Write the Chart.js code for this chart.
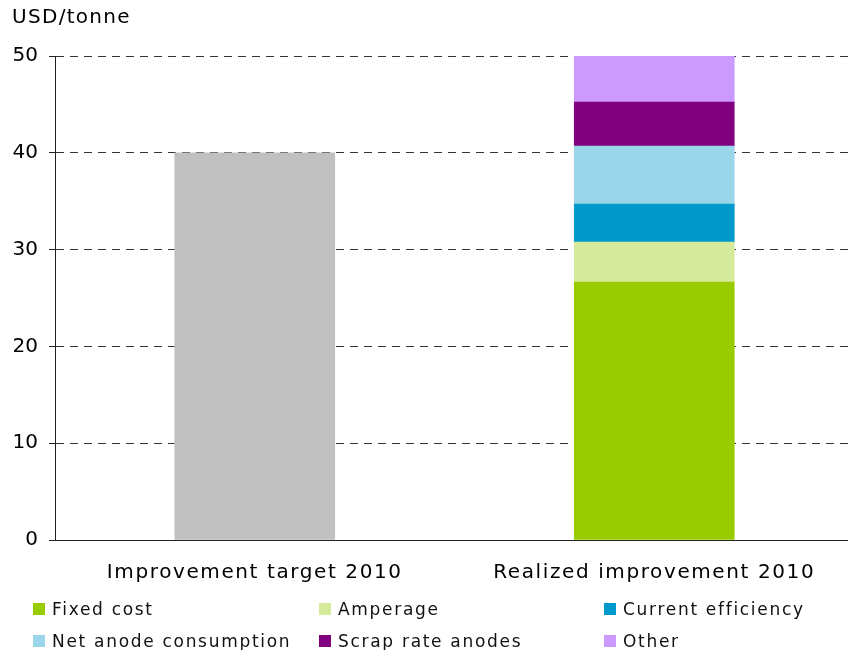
<!DOCTYPE html>
<html><head><meta charset="utf-8">
<script src="https://cdn.jsdelivr.net/npm/chart.js@4/dist/chart.umd.min.js"></script>
<style>
html,body{margin:0;background:#fff;overflow:hidden;}
#wrap{position:relative;width:848px;height:650px;overflow:hidden;}
#title{position:absolute;left:12px;top:4px;font:20px "DejaVu Sans";letter-spacing:1.3px;color:#000;}
.li{position:absolute;font:17px "DejaVu Sans";letter-spacing:1.7px;color:#111;white-space:nowrap;line-height:20px;}
.li span{position:absolute;left:0;top:4px;width:12px;height:12px;}
</style></head>
<body><div id="wrap"><canvas id="c" width="854" height="650"></canvas><div id="title">USD/tonne</div><div id="legend"></div></div>
<script>
const categories = ["Improvement target 2010", "Realized improvement 2010"];
const targetValues = [40, null];
const seriesNames = ["Fixed cost", "Amperage", "Current efficiency", "Net anode consumption", "Scrap rate anodes", "Other"];
const fixedCost = [null, 26.65];
const amperage = [null, 4.13];
const currentEfficiency = [null, 3.93];
const netAnode = [null, 5.99];
const scrapRate = [null, 4.55];
const other = [null, 4.75];
const yTicks = [0, 10, 20, 30, 40, 50];

const colors = ["#99CC00", "#D6EA9B", "#0099CC", "#9BD5EA", "#800080", "#CC99FF"];
const seriesData = [fixedCost, amperage, currentEfficiency, netAnode, scrapRate, other];

const datasets = [{label: "Target", data: targetValues, backgroundColor: "#C0C0C0", stack: "s"}];
seriesNames.forEach((n, i) => datasets.push({label: n, data: seriesData[i], backgroundColor: colors[i], stack: "s"}));

const F = '"DejaVu Sans", Verdana, sans-serif';
const spacingPlugin = {
  id: 'spacing',
  afterLayout(chart) {
    const s = chart.scales.x;
    if (!s._patched) {
      const orig = s.drawLabels.bind(s);
      s.drawLabels = function (area) {
        const ctx = this.ctx;
        const prev = ctx.letterSpacing;
        ctx.letterSpacing = '1.6px';
        orig(area);
        ctx.letterSpacing = prev;
      };
      s._patched = true;
    }
  }
};

new Chart(document.getElementById('c'), {
  type: 'bar',
  data: {labels: categories, datasets},
  plugins: [spacingPlugin],
  options: {
    responsive: false, animation: false,
    layout: {padding: {top: 56, right: 0, bottom: 65, left: 0}},
    datasets: {bar: {barThickness: 160, borderWidth: 0}},
    plugins: {legend: {display: false}, tooltip: {enabled: false}},
    scales: {
      x: {
        stacked: true,
        afterFit: s => { s.height = 45; },
        grid: {display: false, drawTicks: false},
        border: {display: true, color: '#222', width: 1},
        ticks: {font: {family: F, size: 20}, color: '#000', padding: 21, maxRotation: 0}
      },
      y: {
        stacked: true, min: 0, max: 50,
        afterBuildTicks: s => { s.ticks = yTicks.map(v => ({value: v})); },
        afterFit: s => { s.width = 55; },
        grid: {color: '#333', lineWidth: 1, tickLength: 6, tickColor: '#222'},
        border: {display: true, color: '#222', width: 1, dash: [8, 6]},
        ticks: {font: {family: F, size: 20}, color: '#000', padding: 11}
      }
    }
  }
});

const legendX = [33, 319, 604];
const legendY = [599, 631];
const lg = document.getElementById('legend');
seriesNames.forEach((n, i) => {
  const d = document.createElement('div');
  d.className = 'li';
  d.style.left = legendX[i % 3] + 'px';
  d.style.top = legendY[Math.floor(i / 3)] + 'px';
  d.style.paddingLeft = '19px';
  d.innerHTML = '<span style="background:' + colors[i] + '"></span>' + n;
  lg.appendChild(d);
});
</script></body></html>
